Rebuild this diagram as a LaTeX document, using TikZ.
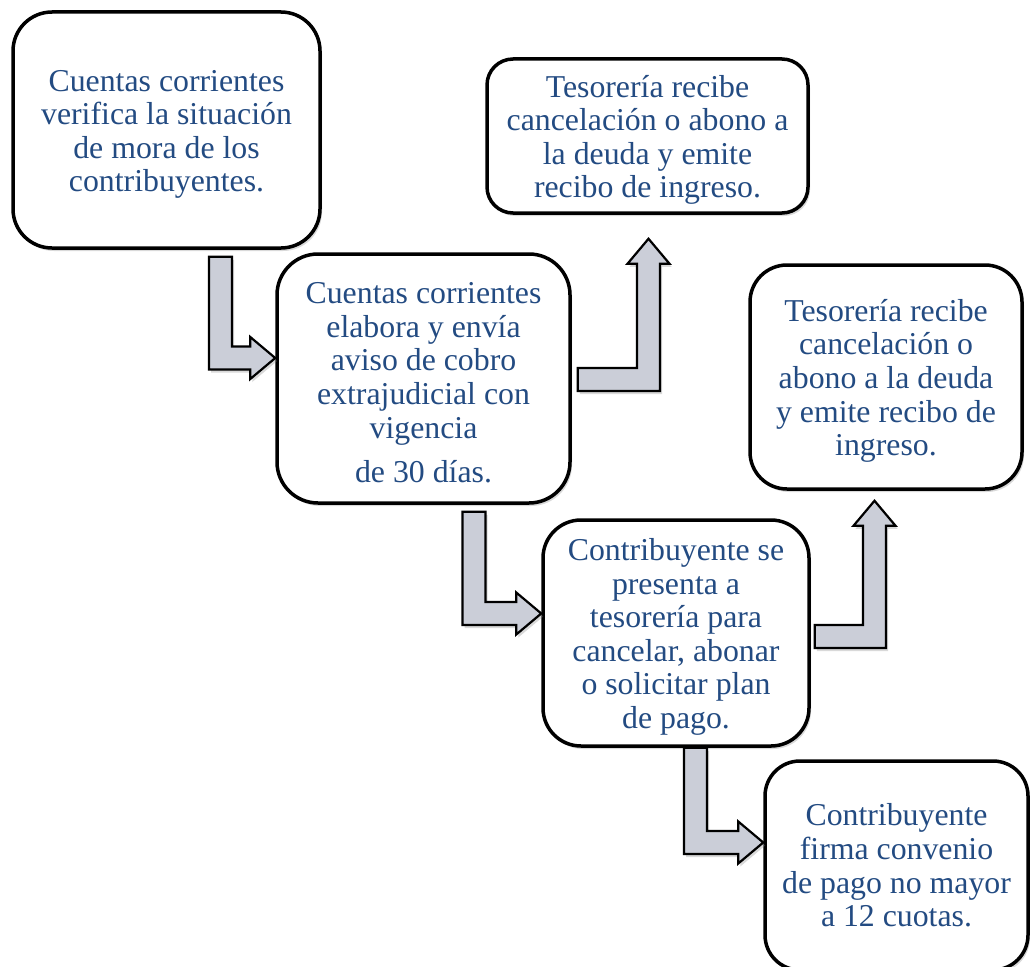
\documentclass[tikz,border=0pt]{standalone}
\usepackage{fontspec}
\setmainfont{Liberation Serif}
\usetikzlibrary{calc,shadows}

\definecolor{txtblue}{RGB}{35,75,130}
\definecolor{arrowgray}{RGB}{203,206,216}

% bent block arrows: #1 = start of the shaft (centre line), #2 = tip
\def\sw{11.5pt}
\def\hw{21pt}
\def\hl{25pt}
\newcommand{\bentdown}[2]{%
  \draw[flow] let \p1=#1, \p2=#2 in
    (\x1-\sw,\y1) -- (\x1+\sw,\y1) -- (\x1+\sw,\y2+\sw) -- (\x2-\hl,\y2+\sw)
    -- (\x2-\hl,\y2+\hw) -- (\x2,\y2) -- (\x2-\hl,\y2-\hw) -- (\x2-\hl,\y2-\sw)
    -- (\x1-\sw,\y2-\sw) -- cycle;}
\newcommand{\bentup}[2]{%
  \draw[flow] let \p1=#1, \p2=#2 in
    (\x1,\y1+\sw) -- (\x2-\sw,\y1+\sw) -- (\x2-\sw,\y2-\hl) -- (\x2-\hw,\y2-\hl)
    -- (\x2,\y2) -- (\x2+\hw,\y2-\hl) -- (\x2+\sw,\y2-\hl) -- (\x2+\sw,\y1-\sw)
    -- (\x1,\y1-\sw) -- cycle;}
% taller first line, pushes the text block down a little
\newcommand{\lift}{\rule{0pt}{30pt}}

\begin{document}
\begin{tikzpicture}[x=1pt,y=1pt,
    box/.style={draw=black,line width=3.5pt,fill=white,rounded corners=#1,
       text=txtblue,align=center,inner sep=0pt,
       font=\fontsize{31.8}{33.6}\selectfont,
       drop shadow={opacity=0.3,shadow xshift=2pt,shadow yshift=-3pt}},
    box/.default=38pt]

    \tikzstyle{flow}=[draw=black,line width=2.2pt,fill=arrowgray,line join=miter,
       drop shadow={opacity=0.3,shadow xshift=2pt,shadow yshift=-3pt}]

    \useasboundingbox (0,0) rectangle (1030,-966);
    \clip (0,0) rectangle (1030,-966);

    \node[box=39pt,minimum width=307pt,minimum height=236pt] (verifica) at (166.5,-130)
        {\lift Cuentas corrientes\\verifica la situación\\de mora de los\\contribuyentes.};
    \node[box=41pt,minimum width=293pt,minimum height=249pt] (aviso) at (423.5,-378.5)
        {\lift Cuentas corrientes\\elabora y envía\\aviso de cobro\\extrajudicial con\\vigencia\\[11pt]de 30 días.};
    \node[box=26pt,minimum width=321pt,minimum height=154pt] (recibo1) at (647.5,-136)
        {\lift Tesorería recibe\\cancelación o abono a\\la deuda y emite\\recibo de ingreso.};
    \node[box=37pt,minimum width=272pt,minimum height=224pt] (recibo2) at (886,-377)
        {\lift Tesorería recibe\\cancelación o\\abono a la deuda\\y emite recibo de\\ingreso.};
    \node[box=38pt,minimum width=266pt,minimum height=226pt] (presenta) at (676,-633)
        {\lift Contribuyente se\\presenta a\\tesorería para\\cancelar, abonar\\o solicitar plan\\de pago.};
    \node[box=35pt,minimum width=263pt,minimum height=209pt] (convenio) at (896.5,-865.5)
        {Contribuyente\\firma convenio\\de pago no mayor\\a 12 cuotas.};

    \bentdown{($(verifica.south)+(54,-7)$)}{($(aviso.west)+(0,20.5)$)}
    \bentup{($(aviso.east)+(6,-1)$)}{($(recibo1.south)+(1,-24)$)}
    \bentdown{($(aviso.south)+(50.5,-7)$)}{($(presenta.west)+(0,19.5)$)}
    \bentup{($(presenta.east)+(4,-3.5)$)}{($(recibo2.south)+(-11.5,-10)$)}
    \bentdown{($(presenta.south)+(19.5,0)$)}{($(convenio.west)+(0,23)$)}

\end{tikzpicture}
\end{document}
